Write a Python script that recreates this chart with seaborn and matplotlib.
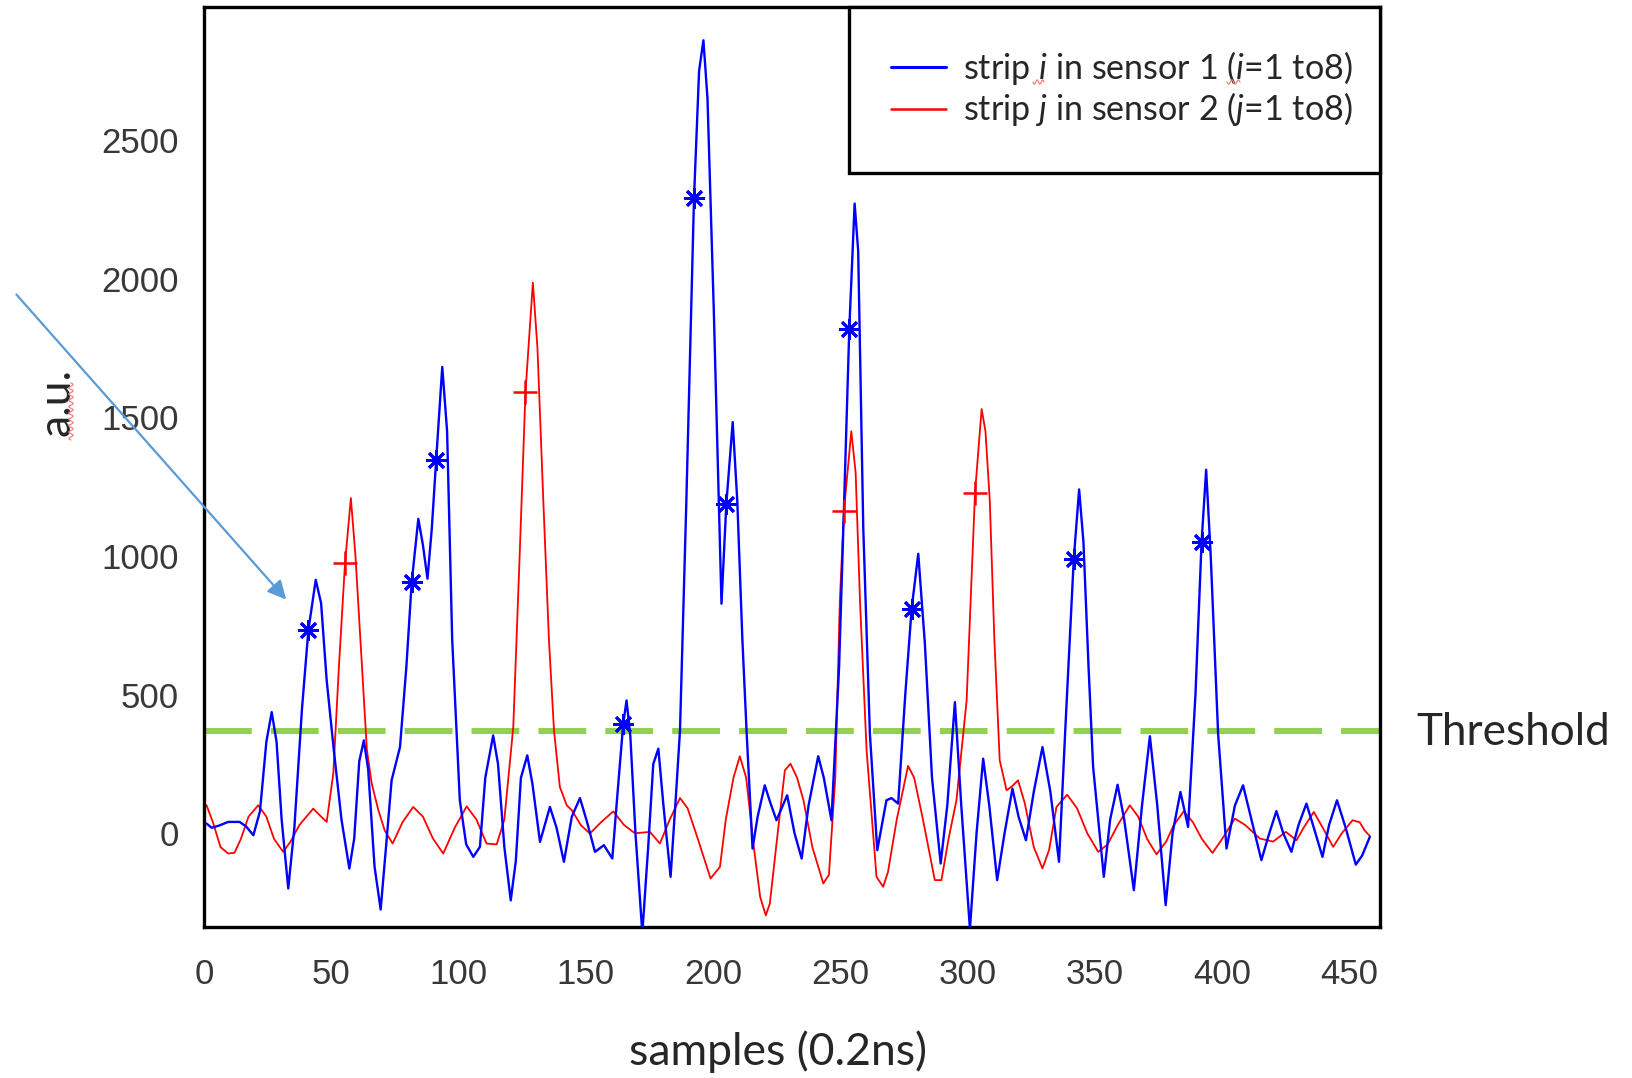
import numpy as np
import pandas as pd
import matplotlib
matplotlib.use("Agg")
import matplotlib.pyplot as plt
import seaborn as sns
from matplotlib.lines import Line2D
from matplotlib.patches import Rectangle

# ---------------- data ----------------
blue_x = [1, 3, 6, 9.5, 14, 16.5, 19.4, 22, 24.5, 26.6, 28.5, 30.5, 33.1, 35.5, 38.5, 41, 43.9, 46, 48.2,
          51, 54, 57.1, 59, 61, 62.8, 64.5, 67, 69.4, 71.5, 73.7, 77, 79.5, 81.6, 84.2, 86, 87.8, 89.5,
          91.2, 93.6, 95.5, 97.5, 100.5, 103, 105.8, 108.4, 110.5, 113.6, 115.5, 118, 120.5, 122.5,
          124.5, 127, 129, 132, 135.9, 138.5, 141.4, 144.5, 147.7, 150.5, 153.6, 157.1, 160.4, 162.5,
          164.7, 166, 167.5, 169.5, 172.2, 174.5, 176.5, 178.5, 180.5, 183.3, 185.5, 187, 189.5, 192.5,
          194.5, 196.2, 197.8, 200.3, 203.3, 205.2, 207.7, 209.5, 211.5, 213.2, 215.5, 217.5, 220.3,
          222.5, 224.9, 229.1, 232, 234.8, 237.5, 241.3, 243.5, 246.5, 249.5, 251.5, 253.5, 255.6, 257,
          259, 261.6, 264.5, 268.1, 270.1, 272.7, 275.5, 278, 280.6, 283.2, 286, 289.4, 292, 295, 297.5,
          300.9, 303.5, 306.1, 308.5, 311.6, 314.5, 317.6, 320, 322.9, 326, 329.4, 332.5, 335.9, 338.5,
          341.7, 343.8, 345.5, 347.5, 349.3, 353.5, 356, 358.9, 361.5, 365.3, 368.5, 371.6, 374.5, 377.8,
          380.5, 383.6, 386.6, 389.5, 391.9, 393.7, 395.5, 398.4, 401.7, 405, 408.2, 411.5, 415.4, 418.5,
          421.3, 424, 427.2, 430, 433.1, 436, 439.4, 442, 445.1, 448.5, 452.5, 455, 458]
blue_y = [35, 20, 28, 41, 41, 25, -7, 80, 330, 437, 330, 50, -199, 20, 450, 732, 914, 830, 551,
          300, 50, -127, -20, 260, 335, 230, -120, -275, -50, 191, 311, 600, 906, 1134, 1040, 918, 1100,
          1345, 1682, 1450, 700, 119, -40, -85, -49, 200, 353, 250, -50, -242, -100,
          200, 281, 180, -31, 95, 20, -103, 60, 127, 40, -67, -43, -91, 150,
          395, 479, 350, 0, -360, -50, 250, 305, 100, -157, 150, 371, 1200, 2290,
          2750, 2860, 2650, 1878, 828, 1187, 1483, 1200, 700, 359, -55, 60, 173,
          110, 47, 137, 0, -91, 100, 278, 200, 47, 600, 1200, 1817, 2271, 2100,
          1100, 359, -61, 119, 127, 107, 500, 810, 1008, 684, 200, -109, 100, 473, 100,
          -345, 0, 269, 100, -169, 0, 161, 60, -25, 150, 311, 150, -103, 400,
          990, 1240, 1050, 600, 239, -157, 50, 175, 50, -205, 100, 350, 100, -259,
          0, 149, 23, 500, 1050, 1311, 1000, 359, -55, 100, 173, 50, -97, 0,
          80, 0, -67, 30, 107, 20, -85, 30, 119, 20, -113, -80, -13]

red_x = [1, 3.5, 6.5, 9.5, 12, 14.5, 17.5, 21.3, 24.5, 27.5, 31.1, 34, 37.5, 42.9, 46, 48.2, 50.8, 53,
         55.4, 57.7, 59.5, 61.9, 64, 65.9, 68.5, 71, 74.1, 78, 82.2, 86, 90, 94, 98.5, 103.2, 107, 111,
         115, 118, 121.5, 124, 126.3, 129.2, 131, 133.3, 135.5, 137.5, 139.8, 142.5, 144.5, 148, 151.6,
         156, 160.8, 165, 169.3, 175.2, 179.1, 183, 187, 190, 194, 199, 202.7, 205, 208, 210.5, 213,
         216, 218.5, 220.7, 222.3, 225, 228.2, 230.4, 233, 235.5, 239, 243.3, 245.5, 248, 249.8, 251.4,
         254.3, 256, 257.7, 260.3, 264.2, 266.8, 268.7, 272.1, 276.6, 279, 282.5, 287.1, 289.7, 292.5,
         295.6, 299.6, 302.9, 305.5, 307, 308.7, 310.5, 312.6, 315.3, 317.5, 319.8, 322.4, 326, 329.4,
         332, 334.9, 339.1, 343, 347, 351.3, 355, 359, 363.7, 367, 370.5, 374.2, 378, 381, 384.9, 388.5,
         392, 396.2, 400, 405, 409, 414.8, 420, 425, 429.2, 432, 436, 439.5, 443.6, 447, 451.2, 454,
         456, 458]
red_y = [101, 40, -50, -73, -70, -20, 60, 101, 60, -20, -67, -30, 30, 89, 60, 41, 216, 600,
         974, 1209, 1000, 624, 300, 179, 83, 10, -37, 40, 95, 60, -20, -73, 20, 97, 50, -37,
         -40, 50, 383, 1000, 1592, 1986, 1750, 1200, 700, 371, 167, 101, 83, 30, -1,
         40, 79, 30, 0, 5, -37, 50, 127, 90, -20, -163, -121, 50, 200, 278, 200,
         -50, -230, -296, -253, -30, 227, 251, 200, 119, -50, -181, -150, 200, 840, 1162,
         1450, 1300, 840, 299, -157, -193, -140, 47, 243, 200, 47, -169, -169, -20,
         119, 479, 1228, 1530, 1450, 1200, 700, 263, 155, 170, 191, 110, -50, -127,
         -60, 95, 139, 90, 0, -67, -40, 30, 101, 60, -20, -76, -30, 30, 79, 40,
         -20, -71, -20, 53, 30, -19, -30, 5, -25, 20, 77, 20, -49, 0, 47, 40,
         10, -10]

star_x = [41, 81.6, 91.2, 164.7, 192.5, 205.2, 253.5, 278, 341.7, 391.9]
star_y = [732, 906, 1345, 395, 2290, 1187, 1817, 810, 990, 1050]
plus_x = [55.4, 126.3, 251.4, 302.9]
plus_y = [974, 1592, 1162, 1228]

threshold = 370
x_ticks = [0, 50, 100, 150, 200, 250, 300, 350, 400, 450]
y_ticks = [0, 500, 1000, 1500, 2000, 2500]

legend_labels = [r"strip $i$ in sensor 1 ($i$=1 to8)", r"strip $j$ in sensor 2 ($j$=1 to8)"]
x_label = "samples (0.2ns)"
y_label = "a.u."
threshold_label = "Threshold"

# ---------------- styling ----------------
sns.set_style("white")
plt.rcParams["font.family"] = ["Liberation Sans", "DejaVu Sans"]
plt.rcParams["mathtext.fontset"] = "custom"
plt.rcParams["mathtext.rm"] = "Lato"
plt.rcParams["mathtext.it"] = "Lato:italic"

BLUE = "#0000FF"
RED = "#FF0000"
GREEN = "#92D050"
ARROW = "#5B9BD5"
SQUIGGLE = "#F08080"

W, H = 1632, 1078
fig = plt.figure(figsize=(W / 100, H / 100), dpi=100)
ax = fig.add_axes([204 / W, (H - 927) / H, 1176 / W, 920 / H])

blue_df = pd.DataFrame({"x": blue_x, "y": blue_y})
red_df = pd.DataFrame({"x": red_x, "y": red_y})

ax.axhline(threshold, color=GREEN, lw=4.3, dashes=(8.0, 3.2), zorder=1)
sns.lineplot(data=blue_df, x="x", y="y", color=BLUE, lw=1.7, sort=False, ax=ax, zorder=3)
sns.lineplot(data=red_df, x="x", y="y", color=RED, lw=1.3, sort=False, ax=ax, zorder=2)
ax.plot(star_x, star_y, linestyle="none", marker=(8, 2, 0), markersize=15,
        markeredgewidth=2.0, color=BLUE, zorder=4)
ax.plot(plus_x, plus_y, linestyle="none", marker="+", markersize=17,
        markeredgewidth=1.8, color=RED, zorder=4)

ax.set_xlim(0, 462)
ax.set_ylim(-338, 2980)
ax.set_xticks(x_ticks)
ax.set_yticks(y_ticks)
ax.set_xlabel("")
ax.set_ylabel("")
ax.tick_params(axis="both", direction="in", length=10, width=1.5, color="#606060",
               labelsize=25, labelcolor="#383838")
ax.tick_params(axis="x", pad=22)
ax.tick_params(axis="y", pad=18)
for sp in ax.spines.values():
    sp.set_visible(True)
    sp.set_color("black")
    sp.set_linewidth(2.4)

# legend box
ax.add_patch(Rectangle(((849 - 204) / 1176, (927 - 173) / 920), 1 - (849 - 204) / 1176,
                       1 - (927 - 173) / 920, transform=ax.transAxes, facecolor="white",
                       edgecolor="black", lw=2.4, zorder=5, clip_on=False))
handles = [Line2D([], [], color=BLUE, lw=2.2), Line2D([], [], color=RED, lw=1.8)]
leg = ax.legend(handles, legend_labels, loc="upper left",
                bbox_to_anchor=(874 / W, (H - 32) / H), bbox_transform=fig.transFigure,
                frameon=False, borderpad=0, handlelength=1.6, handletextpad=0.5,
                labelspacing=0.1, prop={"family": "Lato", "size": 24.6})
leg.set_zorder(6)

# labels
fig.text(778 / W, 13 / H, x_label, ha="center", va="baseline", fontsize=32, family="Lato")
fig.text(57 / W, (H - 402) / H, y_label, ha="center", va="center", rotation=90,
         fontsize=32, family="Lato")
fig.text(1416 / W, (H - 745) / H, threshold_label, ha="left", va="baseline",
         fontsize=31.7, family="Lato")

# spell-check style wavy underlines (decoration)
def squiggle(x0, x1, y0, vertical=False, n=6, amp=2.2):
    t = np.linspace(0, 1, 8 * n + 1)
    a = x0 + (x1 - x0) * t
    b = y0 + amp * np.sin(2 * np.pi * n * t)
    if vertical:
        xs, ys = b, H - a
    else:
        xs, ys = a, H - b
    fig.add_artist(Line2D(xs, ys, transform=None, color=SQUIGGLE, lw=0.9, zorder=8))

squiggle(383, 440, 71, vertical=True, n=9)
squiggle(1033, 1044, 82, n=2)
squiggle(1227, 1240, 82, n=2)

# arrow
ax.annotate("", xy=(288, H - 601.6), xycoords="figure pixels",
            xytext=(14.6, H - 292.5), textcoords="figure pixels",
            arrowprops=dict(arrowstyle="-|>", color=ARROW, lw=1.6, mutation_scale=28),
            annotation_clip=False, zorder=7)

fig.savefig("out.png", dpi=100)
